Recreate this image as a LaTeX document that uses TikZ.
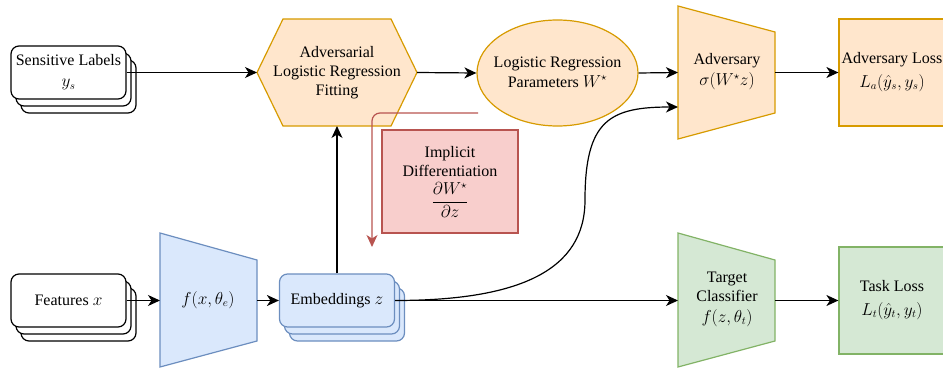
\documentclass[tikz,border=0pt]{standalone}
\usepackage{fontspec}
\setmainfont{Liberation Serif}
\usetikzlibrary{arrows.meta,shapes.geometric}
\definecolor{ofill}{HTML}{FFE6CC}\definecolor{odraw}{HTML}{D79B00}
\definecolor{bfill}{HTML}{DAE8FC}\definecolor{bdraw}{HTML}{6C8EBF}
\definecolor{gfill}{HTML}{D5E8D4}\definecolor{gdraw}{HTML}{82B366}
\definecolor{rfill}{HTML}{F8CECC}\definecolor{rdraw}{HTML}{B85450}
\tikzset{
  txt/.style={align=center,inner sep=0pt,font=\fontsize{16}{19}\selectfont},
  card/.style={draw=black,fill=white,rounded corners=8pt,line width=1.2pt,minimum width=115pt,minimum height=53pt,inner sep=0pt,font=\fontsize{16}{19}\selectfont,align=center},
  bcard/.style={card,draw=bdraw,fill=bfill},
  oshape/.style={draw=odraw,fill=ofill,line width=1.2pt},
  bshape/.style={draw=bdraw,fill=bfill,line width=1.2pt},
  gshape/.style={draw=gdraw,fill=gfill,line width=1.2pt},
  rshape/.style={draw=rdraw,fill=rfill,line width=1.2pt},
  arr/.style={draw=black,line width=1.2pt,-{Stealth[length=12pt,width=11pt,inset=3.5pt]}},
  rarr/.style={draw=rdraw,line width=1.2pt,rounded corners=8pt,-{Stealth[length=12pt,width=11pt,inset=3.5pt]}},
}
\begin{document}
\begin{tikzpicture}[x=1pt,y=-1pt]
\useasboundingbox (0,0) rectangle (943,369);
% Sensitive labels stack
\node[card] (sens3) at (78.5,86.5) {};
\node[card] (sens2) at (73.5,79.5) {};
\node[card] (sens) at (68.5,72.5) {Sensitive Labels\\[2pt]$y_s$};
% Features stack
\node[card] (feat3) at (78.5,314.5) {};
\node[card] (feat2) at (73.5,307.5) {};
\node[card] (feat) at (68.5,300.5) {Features $x$};
% Embeddings stack
\node[bcard] (emb3) at (347,314.5) {};
\node[bcard] (emb2) at (342,307.5) {};
\node[bcard] (emb) at (337,300.5) {Embeddings $z$};
% Hexagon
\draw[oshape] (257,72.5) -- (283,19) -- (391,19) -- (417,72.5) -- (391,126) -- (283,126) -- cycle;
\node[txt] (hex) at (337,73) {Adversarial\\Logistic Regression\\Fitting};
\coordinate (hexL) at (257,72.5);
\coordinate (hexR) at (417,72.5);
\coordinate (hexB) at (337,126);
% Ellipse
\node[ellipse,oshape,minimum width=161pt,minimum height=106pt,inner sep=0pt] (lrp) at (557.5,73) {};
\node[txt] (lrptxt) at (557.5,72) {Logistic Regression\\[1pt]Parameters $W^\star$};
% Adversary trapezoid
\draw[oshape] (678,6) -- (775,32) -- (775,113) -- (678,139) -- cycle;
\node[txt] (adv) at (727,72) {Adversary\\[2pt]$\sigma(W^\star z)$};
\coordinate (advL) at (678,72.5);
\coordinate (advL2) at (678,107);
\coordinate (advR) at (775,72.5);
% Adversary loss
\node[oshape,minimum width=107pt,minimum height=107pt,inner sep=0pt] (advloss) at (892.5,72.5) {};
\node[txt] (advlosstxt) at (892,72) {Adversary Loss\\[5pt]$L_a(\hat{y}_s,y_s)$};
% Encoder trapezoid
\draw[bshape] (160,233) -- (257,260) -- (257,341) -- (160,367) -- cycle;
\node[txt] (enc) at (208,300) {$f(x,\theta_e)$};
\coordinate (encL) at (160,300.5);
\coordinate (encR) at (257,300.5);
% Target classifier
\draw[gshape] (678,233) -- (775,260) -- (775,341) -- (678,367) -- cycle;
\node[txt] (tgt) at (727,299) {Target\\Classifier\\[2pt]$f(z,\theta_t)$};
\coordinate (tgtL) at (678,300.5);
\coordinate (tgtR) at (775,300.5);
% Task loss
\node[gshape,minimum width=107pt,minimum height=107pt,inner sep=0pt] (task) at (892.5,300.5) {};
\node[txt] (tasktxt) at (892,300) {Task Loss\\[5pt]$L_t(\hat{y}_t,y_t)$};
% Implicit differentiation
\node[rshape,minimum width=136pt,minimum height=103pt,inner sep=0pt] (impl) at (450,181.5) {};
\node[txt] (impltxt) at (450,182) {Implicit\\Differentiation\\[5pt]$\displaystyle\frac{\partial W^\star}{\partial z}$};
% red arrow
\coordinate (rs) at (478,113);
\coordinate (rc) at (372,113);
\coordinate (re) at (372,247);
\draw[rarr] (rs) -- (rc) -- (re);
% connectors
\draw[arr] (sens.east) -- (hexL);
\draw[arr] (hexR) -- (lrp.west);
\draw[arr] (lrp.east) -- (advL);
\draw[arr] (advR) -- (advloss.west);
\draw[arr] (feat.east) -- (encL);
\draw[arr] (encR) -- (emb.west);
\draw[arr] (emb.north) -- (hexB);
\draw[arr] (emb.east) -- (tgtL);
\draw[arr] (tgtR) -- (task.west);
\draw[arr] (emb.east) .. controls (520,300.5) and (585,270) .. (585,200) .. controls (585,120) and (610,107) .. (advL2);
\end{tikzpicture}
\end{document}
